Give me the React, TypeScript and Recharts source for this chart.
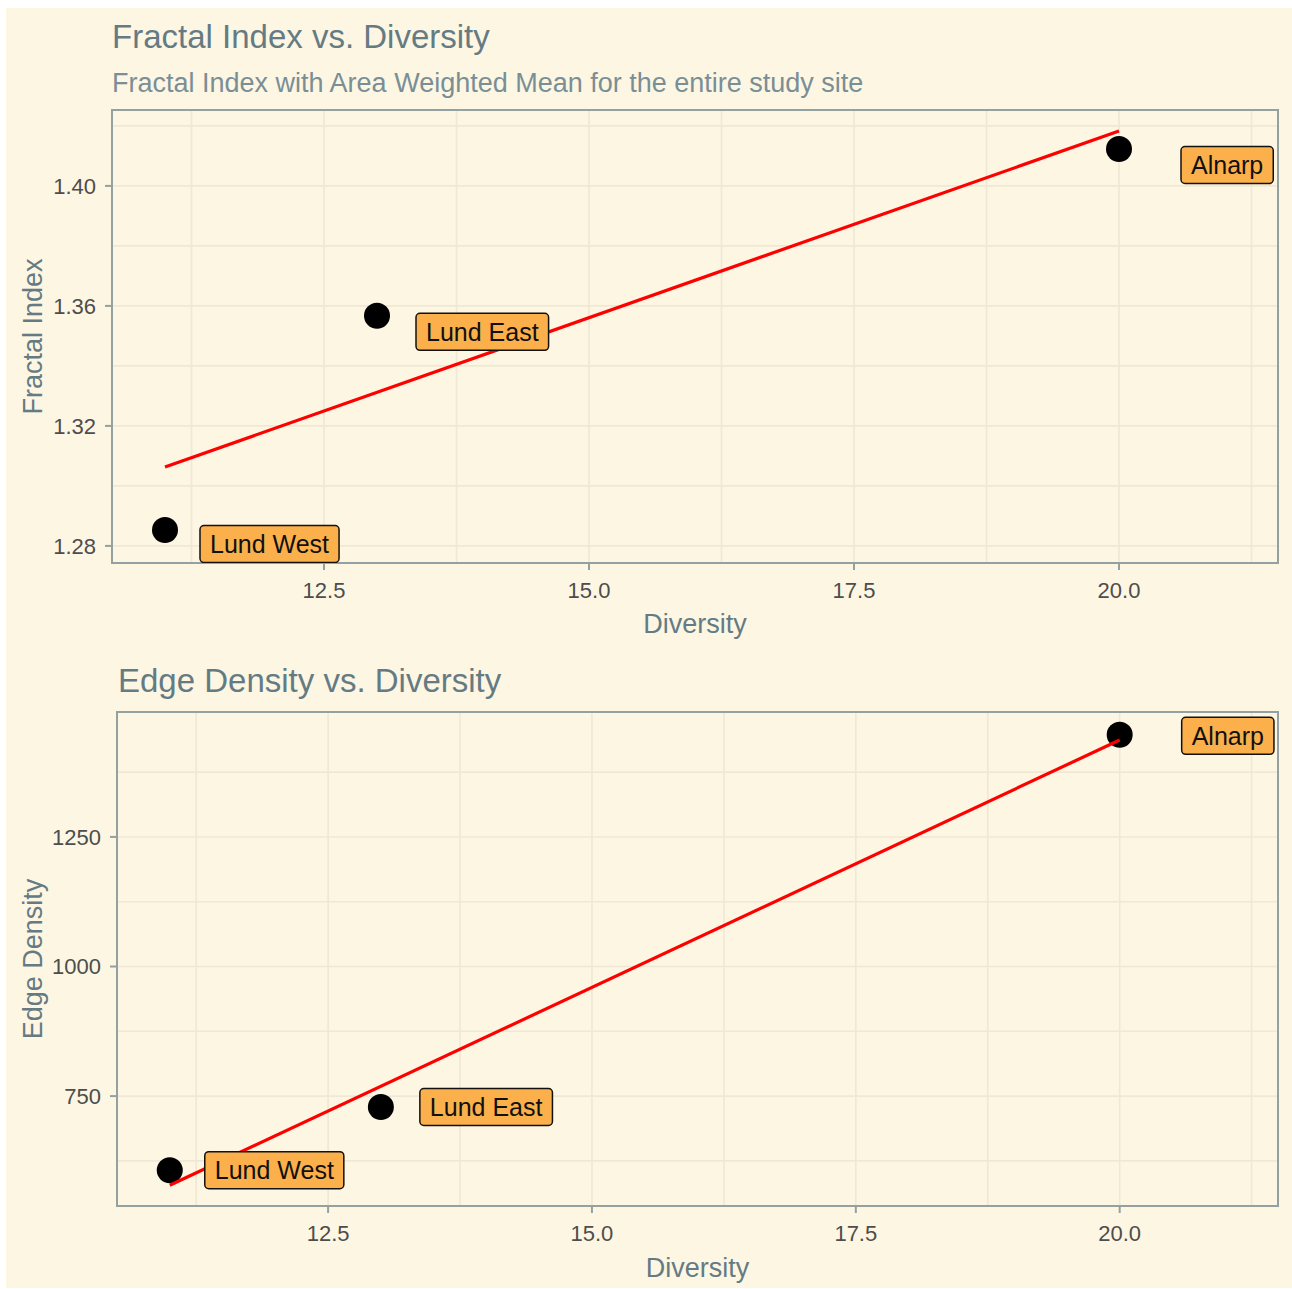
import React from 'react';
import {
  ScatterChart, Scatter, XAxis, YAxis, CartesianGrid, ReferenceArea,
} from 'recharts';

// ---------- data ----------
const sites = ['Lund West', 'Lund East', 'Alnarp'];
const diversity = [11, 13, 20];
const fractalIndex = [1.2853, 1.3567, 1.4123];
const edgeDensity = [607, 729, 1447];

// fitted (area-weighted) trend line end points
const fitDiversity = [11, 20];
const fractalFit = [1.3063, 1.4183];
const edgeFit = [578, 1437];

// axes
const xDomain = [10.5, 21.5];
const xTicks = [12.5, 15, 17.5, 20];
const xGrid = [11.25, 12.5, 13.75, 15, 16.25, 17.5, 18.75, 20, 21.25];
const fractalDomain = [1.2743, 1.4253];
const fractalTicks = [1.28, 1.32, 1.36, 1.4];
const fractalGrid = [1.28, 1.3, 1.32, 1.34, 1.36, 1.38, 1.4, 1.42];
const edgeDomain = [538, 1491];
const edgeTicks = [750, 1000, 1250];
const edgeGrid = [625, 750, 875, 1000, 1125, 1250, 1375];

// ---------- style ----------
const BG = '#fdf6e3';
const GRID = '#eee8d5';
const BORDER = '#93a1a1';
const TITLE = '#657b83';
const SUB = '#7a8e96';
const TICK = '#4d4d4d';
const FONT = '"Liberation Sans", Arial, sans-serif';
const LABEL_FILL = '#fcb04c';
const LABEL_FONT = 25;
const LABEL_PAD = 10;
const LABEL_H = 37;
// label box offsets (px) from each point, per panel (repelled labels)
const labelDx = [35, 39, 62];
const fractalLabelDy = [14, 16, 16];
const edgeLabelDy = [0, 0, 1];

let ctx: CanvasRenderingContext2D | null = null;
function textWidth(t: string, size: number) {
  if (!ctx) ctx = document.createElement('canvas').getContext('2d');
  if (!ctx) return t.length * size * 0.5;
  ctx.font = `${size}px "Liberation Sans"`;
  return ctx.measureText(t).width;
}

const makePoints = (ys: number[]) =>
  sites.map((name, i) => ({ name, x: diversity[i], y: ys[i] }));
const makeFit = (ys: number[]) =>
  fitDiversity.map((x, i) => ({ x, y: ys[i] }));

const Dot = (p: any) => <circle cx={p.cx} cy={p.cy} r={13} fill="#000" />;
const NoShape = () => <g />;

const makeLabel = (dys: number[]) => (p: any) => {
  const name = p.payload?.name ?? p.name;
  const i = sites.indexOf(name);
  const w = textWidth(name, LABEL_FONT) + LABEL_PAD * 2;
  const x = p.cx + labelDx[i];
  const cy = p.cy + dys[i];
  return (
    <g>
      <rect x={x} y={cy - LABEL_H / 2} width={w} height={LABEL_H} rx={4} ry={4}
        fill={LABEL_FILL} stroke="#111" strokeWidth={1.5} />
      <text x={x + LABEL_PAD} y={cy + LABEL_FONT * 0.36} fontSize={LABEL_FONT}
        fontFamily={FONT} fill="#111">{name}</text>
    </g>
  );
};

const tickStyle = { fill: TICK, fontSize: 22, fontFamily: FONT };

function Panel(props: {
  width: number; height: number; margin: any;
  ys: number[]; fit: number[]; yDomain: number[]; yTicks: number[]; yGrid: number[];
  yFmt: (v: number) => string; dys: number[];
}) {
  const { width, height, margin, ys, fit, yDomain, yTicks, yGrid, yFmt, dys } = props;
  return (
    <ScatterChart width={width} height={height} margin={margin}>
      <CartesianGrid stroke={GRID} strokeWidth={1.6}
        horizontalValues={yGrid} verticalValues={xGrid} />
      <XAxis type="number" dataKey="x" domain={xDomain} ticks={xTicks}
        allowDataOverflow interval={0} height={70} axisLine={false}
        tickLine={{ stroke: BORDER, strokeWidth: 2 }} tickSize={7} tickMargin={12}
        tick={tickStyle} tickFormatter={(v: number) => v.toFixed(1)} />
      <YAxis type="number" dataKey="y" domain={yDomain} ticks={yTicks}
        allowDataOverflow interval={0} width={90} axisLine={false}
        tickLine={{ stroke: BORDER, strokeWidth: 2 }} tickSize={7} tickMargin={9}
        tick={tickStyle} tickFormatter={yFmt} />
      <ReferenceArea x1={xDomain[0]} x2={xDomain[1]} y1={yDomain[0]} y2={yDomain[1]}
        fill="none" fillOpacity={0} stroke={BORDER} strokeWidth={2} ifOverflow="visible" />
      <Scatter data={makePoints(ys)} shape={Dot} isAnimationActive={false} />
      <Scatter data={makeFit(fit)} shape={NoShape} isAnimationActive={false}
        line={{ stroke: '#ff0000', strokeWidth: 3.2 }} lineType="joint" />
      <Scatter data={makePoints(ys)} shape={makeLabel(dys)} isAnimationActive={false} />
    </ScatterChart>
  );
}

export default function App() {
  return (
    <div style={{ position: 'absolute', left: 6, top: 8, width: 1286, height: 1280, background: BG }}>
      <div style={{ position: 'absolute', left: 0, top: 0 }}>
        <Panel width={1286} height={640} margin={{ top: 102, right: 14, bottom: 15, left: 16 }}
          ys={fractalIndex} fit={fractalFit} yDomain={fractalDomain} yTicks={fractalTicks}
          yGrid={fractalGrid} yFmt={(v) => v.toFixed(2)} dys={fractalLabelDy} />
      </div>
      <div style={{ position: 'absolute', left: 0, top: 642 }}>
        <Panel width={1286} height={638} margin={{ top: 62, right: 14, bottom: 12, left: 21 }}
          ys={edgeDensity} fit={edgeFit} yDomain={edgeDomain} yTicks={edgeTicks}
          yGrid={edgeGrid} yFmt={(v) => String(v)} dys={edgeLabelDy} />
      </div>
      <svg width={1286} height={1280} style={{ position: 'absolute', left: 0, top: 0, pointerEvents: 'none' }}
        fontFamily={FONT}>
        <text x={106} y={40} fontSize={33} fill={TITLE}>Fractal Index vs. Diversity</text>
        <text x={106} y={84} fontSize={27} fill={SUB}>Fractal Index with Area Weighted Mean for the entire study site</text>
        <text x={689} y={625} fontSize={27} fill={TITLE} textAnchor="middle">Diversity</text>
        <text x={35.5} y={328.5} fontSize={27} fill={TITLE} textAnchor="middle"
          transform="rotate(-90 35.5 328.5)">Fractal Index</text>
        <text x={112} y={683.5} fontSize={33} fill={TITLE}>Edge Density vs. Diversity</text>
        <text x={691.5} y={1269} fontSize={27} fill={TITLE} textAnchor="middle">Diversity</text>
        <text x={35.5} y={951} fontSize={27} fill={TITLE} textAnchor="middle"
          transform="rotate(-90 35.5 951)">Edge Density</text>
      </svg>
    </div>
  );
}
